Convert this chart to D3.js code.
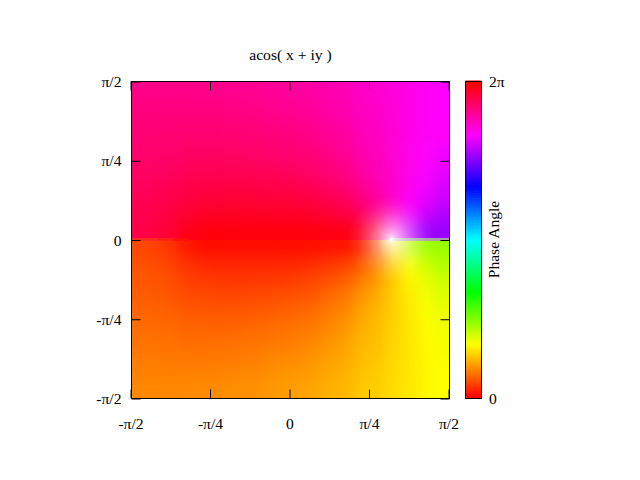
<!DOCTYPE html>
<html><head><meta charset="utf-8">
<style>html,body{margin:0;background:#fff}svg{display:block}text{font-family:"Liberation Serif";fill:#000}</style>
<script src="https://cdn.jsdelivr.net/npm/d3@7"></script></head><body><svg id="c" width="640" height="480"></svg>
<script>
const title = "acos( x + iy )";
const colorbarLabel = "Phase Angle";
const tickValues = [-Math.PI/2, -Math.PI/4, 0, Math.PI/4, Math.PI/2];
const tickLabels = ["-π/2", "-π/4", "0", "π/4", "π/2"];
const colorbarTicks = ["0", "2π"];
const branchPoint = 1;
const whiteStops = [[0,1],[.03,.9],[.1,.74],[.2,.6],[.4,.38],[.6,.2],[.8,.07],[1,0]];
// hue in degrees (phase/2π·360), one row per y band. Left to right.
const upperHue = [
[328,328,328,327.8,327.6,327.2,326.7,326.2,325,323.5,322.5,321,318.7,317,313,311.5,308.2,305.5,302.3,300],
[329.6,329.7,329.8,330,329.7,329.3,328.8,328.2,327,325.5,324.5,323,320.5,318.6,314.2,312.5,309,305.8,302.1,300],
[331.3,331.5,331.6,331.8,331.7,331.5,331.2,330.5,329.5,328,327,325.2,322.5,320.2,315.5,313.4,309.4,306,302,301],
[333,333.2,333.5,334.3,334.2,334,333.6,333,332.2,331,329.8,328,325,322.3,317,314.5,310,306,301.7,302.2],
[334.7,335,335.5,336.7,336.8,336.9,337,336,335.2,334,333,331.2,328,325.1,319,315.5,310.3,306,300.7,296.6],
[336.5,337,337.7,339.4,339.7,339.9,340,339.5,338.8,337.7,336.5,335,331.3,328.2,322,317,311,305.5,299,295],
[338.2,339,340,342.3,343,343.3,343.7,343.4,342.8,342,341,339,335.5,332.3,325.5,319,311.4,304.5,297.3,292],
[339.7,341,342,345.3,346.5,347.3,347.8,347.5,347,346.5,345.6,344,341.5,338.2,331,323,311.5,302,294,288],
[341.3,342.7,345,349,351,352,352.2,352,352,351.6,351,350,348,345.3,339,330,311.5,297,287.5,281.5],
[343,345,348,354.4,357,357.5,357.5,357.4,357.3,357.2,357,356.5,355.7,355,352,345,307.4,285,277,276]
];
const lowerHue = [
[17,15,12,5.6,3,2.5,2.5,2.6,2.7,2.8,3,3.5,4.3,5,8,15,52.6,75,83,84],
[18.7,17.3,15,11,9,8,7.8,8,8.1,8.4,8.9,10,12,14.7,21,30,48.5,63,72.5,78.5],
[20.3,19.3,18,14.7,13.5,12.7,12.2,12.5,13,13.5,14.4,16,18.5,21.8,29,37,48.6,58,66,72],
[21.8,21,20,17.7,17,16.7,16.3,16.6,17.2,18,19,21,24.5,27.7,34.5,41,48.5,55.5,62.7,68],
[23.5,23,22.3,20.6,20.3,20.1,20,20.5,21.2,22.3,23.5,25,28.7,31.8,38,43,49,54.5,61,65],
[25.3,25,24.5,23.3,23.2,23.1,23,24,24.8,26,27,28.8,32,34.9,41,44.5,49.7,54,59.3,63.4],
[27,26.8,26.5,25.7,25.8,26,26.4,27,27.8,29,30.2,32,35,37.7,43,45.5,50,54,58.3,61.8],
[28.7,28.5,28.4,28.2,28.3,28.5,28.8,29.5,30.5,32,33,34.8,37.5,39.8,44.5,46.6,50.6,54,58,61],
[30.4,30.3,30.2,30,30.3,30.7,31.2,31.8,33,34.5,35.5,37,39.5,41.4,45.8,47.5,51,54.2,57.9,60],
[32,32,32,32.2,32.4,32.8,33.3,33.8,35,36.5,37.5,39,41.3,43,47,48.5,51.8,54.5,57.7,60]
];
// thin row lying on y = 0: [from x, to x, colour]
const seamStart = [-Math.PI/2, -1.3, -1.15, 1];
const seamEnd = [-1.3, -1.15, -1.0, Math.PI/2];
const seamColor = ["#ff2a20", "#ff2016", "#ff100a", "#a8a2a8"];

const L=131,R=449,T=81,B=398,CL=465,CR=481,FS=15.6;
const svg=d3.select("#c");
const x=d3.scaleLinear().domain([-Math.PI/2,Math.PI/2]).range([L,R]);
const y=d3.scaleLinear().domain([-Math.PI/2,Math.PI/2]).range([B,T]);
const color=h=>d3.hsl(h,1,.5).formatRgb();
const defs=svg.append("defs");
defs.append("filter").attr("id","soft").attr("filterUnits","userSpaceOnUse")
  .attr("x",L-60).attr("y",T-60).attr("width",R-L+120).attr("height",B-T+120)
  .attr("color-interpolation-filters","sRGB")
  .append("feGaussianBlur").attr("stdDeviation",6);
const clip=(id,y0,y1)=>defs.append("clipPath").attr("id",id).append("rect")
  .attr("x",L).attr("y",y0).attr("width",R-L).attr("height",y1-y0);
clip("clipU",T,240);clip("clipL",240,B);clip("clipAll",T,B);

const pad=40;
function half(rows,id,y0,y1){
  const cx=d3.scaleBand().domain(d3.range(rows[0].length)).range([L,R]);
  const cy=d3.scaleBand().domain(d3.range(rows.length)).range([y0,y1]);
  const g=svg.append("g").attr("clip-path",`url(#${id})`).append("g").attr("filter","url(#soft)");
  rows.forEach((row,j)=>{
    g.selectAll(null).data(row).join("rect")
      .attr("x",(d,i)=>cx(i)-(i===0?pad:0))
      .attr("width",(d,i)=>cx.bandwidth()+(i===0||i===row.length-1?pad:0)+.5)
      .attr("y",cy(j)-(j===0?pad:0))
      .attr("height",cy.bandwidth()+(j===0||j===rows.length-1?pad:0)+.5)
      .attr("fill",d=>color(d));
  });
}
half(upperHue,"clipU",T,y(0));
half(lowerHue,"clipL",y(0),B);
svg.append("g").selectAll("rect").data(seamColor).join("rect")
  .attr("x",(d,i)=>x(seamStart[i])).attr("width",(d,i)=>x(seamEnd[i])-x(seamStart[i]))
  .attr("y",y(0)-1.5).attr("height",3).attr("fill",d=>d);

const spotR=44;
const rg=defs.append("radialGradient").attr("id","white").attr("gradientUnits","userSpaceOnUse")
  .attr("cx",x(branchPoint)).attr("cy",y(0)).attr("r",spotR);
rg.selectAll("stop").data(whiteStops).join("stop").attr("offset",d=>d[0])
  .attr("stop-color","#fff").attr("stop-opacity",d=>d[1]);
svg.append("circle").attr("clip-path","url(#clipAll)").attr("cx",x(branchPoint)).attr("cy",y(0)).attr("r",spotR).attr("fill","url(#white)");

// colour box
const cbSteps=d3.range(128);
const cbY=d3.scaleBand().domain(cbSteps).range([B,T]);
svg.append("g").selectAll("rect").data(cbSteps).join("rect")
  .attr("x",CL).attr("width",CR-CL).attr("y",d=>cbY(d)-.5).attr("height",cbY.bandwidth()+1)
  .attr("fill",d=>color(d/127*360));
svg.append("rect").attr("x",CL+.5).attr("y",T+.5).attr("width",CR-CL).attr("height",B-T).attr("fill","none").attr("stroke","#000");

// frame & ticks
const fmt=(d,i)=>tickLabels[i];
const ax=(gen,tx,ty,hide)=>{
  const g=svg.append("g").attr("transform",`translate(${tx},${ty})`).call(gen);
  g.select(".domain").remove();
  g.selectAll("line").attr("stroke","#000");
  if(hide) g.selectAll("text").remove();
  else g.selectAll("text").attr("font-size",FS).attr("font-family","Liberation Serif").attr("fill","#000");
  return g;
};
ax(d3.axisBottom(x).tickValues(tickValues).tickFormat(fmt).tickSize(-9).tickPadding(19),-.5,B+.5);
ax(d3.axisTop(x).tickValues(tickValues).tickSize(-9),-.5,T+.5,true);
ax(d3.axisLeft(y).tickValues(tickValues).tickFormat(fmt).tickSize(-9).tickPadding(10),L+.5,.5);
ax(d3.axisRight(y).tickValues(tickValues).tickSize(-9),R+.5,.5,true);
svg.append("rect").attr("x",L+.5).attr("y",T+.5).attr("width",R-L).attr("height",B-T).attr("fill","none").attr("stroke","#000");

svg.append("text").attr("x",290.5).attr("y",60).attr("text-anchor","middle").attr("font-size",FS).text(title);
svg.append("text").attr("x",489).attr("y",404).attr("font-size",FS).text(colorbarTicks[0]);
svg.append("text").attr("x",489).attr("y",87).attr("font-size",FS).text(colorbarTicks[1]);
svg.append("text").attr("transform","translate(499,239.5) rotate(-90)").attr("text-anchor","middle").attr("font-size",FS).text(colorbarLabel);
</script></body></html>
